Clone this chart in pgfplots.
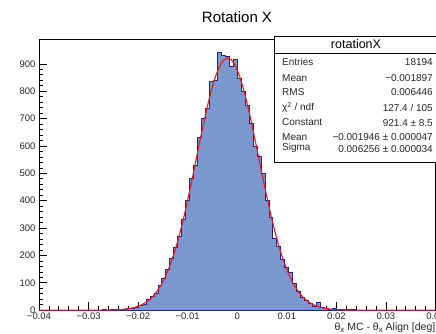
\documentclass[border=0pt]{standalone}
\usepackage{pgfplots}
\pgfplotsset{compat=1.18}
\usepackage{fontspec}
\setmainfont{Liberation Sans}
\definecolor{histfill}{RGB}{122,151,206}
\definecolor{histline}{RGB}{30,38,140}
\definecolor{fitred}{RGB}{240,20,30}
\pgfplotstableread{
x y
-0.0400 0
-0.0272 1
-0.0264 0
-0.0256 1
-0.0248 2
-0.0240 2
-0.0232 4
-0.0224 5
-0.0216 7
-0.0208 10
-0.0200 16
-0.0192 22
-0.0184 38
-0.0176 52
-0.0168 61
-0.0160 90
-0.0152 116
-0.0144 150
-0.0136 188
-0.0128 230
-0.0120 268
-0.0112 330
-0.0104 402
-0.0096 482
-0.0088 530
-0.0080 630
-0.0072 700
-0.0064 738
-0.0056 835
-0.0048 838
-0.0040 941
-0.0032 932
-0.0024 926
-0.0016 890
-0.0008 916
0.0000 848
0.0008 800
0.0016 748
0.0024 682
0.0032 600
0.0040 560
0.0048 498
0.0056 400
0.0064 340
0.0072 262
0.0080 232
0.0088 184
0.0096 158
0.0104 138
0.0112 98
0.0120 70
0.0128 48
0.0136 34
0.0144 24
0.0152 15
0.0160 28
0.0168 9
0.0176 6
0.0184 4
0.0192 5
0.0200 2
0.0208 3
0.0216 1
0.0224 1
0.0232 1
0.0240 0
0.0400 0
}\histdata
\pgfplotstableread{
x y
-0.0400 0
-0.0300 0.01
-0.0280 0.16
-0.0260 0.57
-0.0252 0.9
-0.0244 1.5
-0.0236 2.3
-0.0228 3.6
-0.0220 5.4
-0.0212 8.1
-0.0204 11.9
-0.0196 17.2
-0.0188 24.5
-0.0180 34.2
-0.0172 47.2
-0.0164 63.9
-0.0156 85.1
-0.0148 111.6
-0.0140 144.0
-0.0132 182.7
-0.0124 228.2
-0.0116 280.1
-0.0108 338.4
-0.0100 402.3
-0.0092 470.5
-0.0084 541.1
-0.0076 612.5
-0.0068 681.9
-0.0060 746.9
-0.0052 804.9
-0.0044 853.2
-0.0036 889.8
-0.0028 912.8
-0.0020 921.4
-0.0012 914.9
-0.0004 893.7
0.0004 858.8
0.0012 811.9
0.0020 755.2
0.0028 691.0
0.0036 622.0
0.0044 550.8
0.0052 479.9
0.0060 411.3
0.0068 346.8
0.0076 287.7
0.0084 234.7
0.0092 188.4
0.0100 148.8
0.0108 115.6
0.0116 88.4
0.0124 66.5
0.0132 49.1
0.0140 35.8
0.0148 25.6
0.0156 18.0
0.0164 12.5
0.0172 8.5
0.0180 5.7
0.0188 3.8
0.0196 2.4
0.0204 1.6
0.0220 0.61
0.0250 0.09
0.0300 0.0
0.0400 0
}\fitdata
\newcommand{\subx}{\raisebox{-0.4ex}{\fontsize{8}{9}\selectfont x}}
\begin{document}
\begin{tikzpicture}[x=1pt,y=1pt]
\path[use as bounding box] (0,0) rectangle (436,334);
\begin{axis}[
  at={(39pt,23.8pt)}, anchor=south west,
  scale only axis, width=396.5pt, height=270.4pt,
  xmin=-0.04, xmax=0.04, ymin=0, ymax=988,
  axis line style={line width=0.7pt},
  tick pos=left, tick align=inside,
  major tick length=8pt, minor tick length=4pt,
  tick style={line width=0.7pt, black},
  xtick={-0.04,-0.03,-0.02,-0.01,0,0.01,0.02,0.03,0.04},
  xticklabels={−0.04,−0.03,−0.02,−0.01,0,0.01,0.02,0.03,0.04},
  ytick={0,100,200,300,400,500,600,700,800,900},
  yticklabels={0,100,200,300,400,500,600,700,800,900},
  minor x tick num=4, minor y tick num=4,
  ticklabel style={font=\fontsize{9.5}{11}\selectfont, text=black!85},
  xticklabel style={yshift=1pt},
  scaled x ticks=false,
]
\addplot[const plot, fill=histfill, draw=histline, line width=0.9pt] table {\histdata} \closedcycle;
\addplot[fitred, line width=1.1pt, smooth, tension=0.3] table {\fitdata};
\end{axis}
% title
\node[font=\fontsize{15}{17}\selectfont] at (237,317) {Rotation X};
% x label
\node[anchor=east, font=\fontsize{10.5}{12}\selectfont, text=black!85, inner sep=0pt] at (435.5,6.5) {θ\subx{} MC - θ\subx{} Align [deg]};
% stat box
\draw[fill=white, line width=0.7pt] (274,298) rectangle (440,172);
\draw[line width=0.6pt] (274,281) -- (440,281);
\node[font=\fontsize{12.5}{14}\selectfont] at (356,289.5) {rotationX};
\begin{scope}[every node/.style={font=\fontsize{10}{11}\selectfont, inner sep=0pt, text=black!85}]
\node[anchor=west] at (282,272.3) {Entries};
\node[anchor=east] at (433,272.3) {18194};
\node[anchor=west] at (282,255.5) {Mean};
\node[anchor=east] at (433,255.5) {−0.001897};
\node[anchor=west] at (282,241.7) {RMS};
\node[anchor=east] at (433,241.7) {0.006446};
\node[anchor=west] at (282,226.5) {χ\textsuperscript{2} / ndf};
\node[anchor=east] at (433,226.0) {127.4 / 105};
\node[anchor=west] at (282,211.5) {Constant};
\node[anchor=east] at (433,211.0) {921.4 ± 8.5};
\node[anchor=west] at (282,197.3) {Mean};
\node[anchor=east] at (433,197.3) {−0.001946 ± 0.000047};
\node[anchor=west] at (282,186.5) {Sigma};
\node[anchor=east] at (433,185.0) {0.006256 ± 0.000034};
\end{scope}
\end{tikzpicture}
\end{document}
